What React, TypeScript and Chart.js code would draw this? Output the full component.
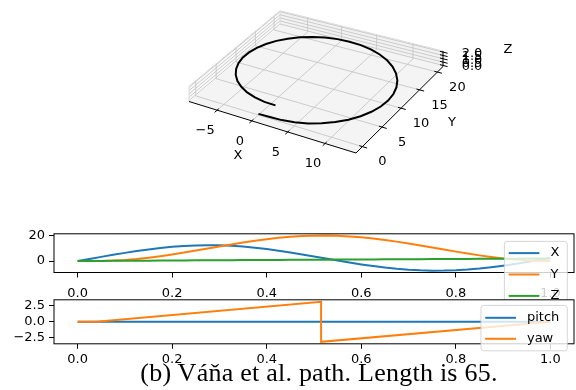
import React, { useEffect, useRef } from 'react';
import { Chart, registerables } from 'chart.js';

Chart.register(...registerables);

// ---------------- data ----------------
const T = [0, 0.025, 0.05, 0.075, 0.1, 0.125, 0.15, 0.175, 0.2, 0.225, 0.25, 0.275, 0.3, 0.325, 0.35, 0.375, 0.4, 0.425, 0.45, 0.475, 0.5, 0.525, 0.55, 0.575, 0.6, 0.625, 0.65, 0.675, 0.7, 0.725, 0.75, 0.775, 0.8, 0.825, 0.85, 0.875, 0.9, 0.925, 0.95, 0.975, 1.0];
const PATH_X = [0, 1.62, 3.25, 4.86, 6.4, 7.83, 9.12, 10.24, 11.14, 11.81, 12.24, 12.4, 12.3, 11.93, 11.31, 10.45, 9.38, 8.13, 6.72, 5.2, 3.61, 1.98, 0.36, -1.2, -2.67, -4.0, -5.17, -6.13, -6.86, -7.35, -7.58, -7.55, -7.25, -6.69, -5.9, -4.88, -3.67, -2.3, -0.8, 0.78, 2.4];
const PATH_Y = [0, 0, 0.04, 0.31, 0.83, 1.6, 2.6, 3.79, 5.14, 6.63, 8.2, 9.82, 11.45, 13.03, 14.54, 15.93, 17.16, 18.2, 19.02, 19.6, 19.93, 19.99, 19.79, 19.33, 18.62, 17.68, 16.54, 15.23, 13.77, 12.22, 10.6, 8.97, 7.37, 5.84, 4.42, 3.14, 2.06, 1.17, 0.53, 0.13, 0];
const PATH_Z = [0, 0.05, 0.1, 0.15, 0.2, 0.25, 0.3, 0.35, 0.4, 0.45, 0.5, 0.55, 0.6, 0.65, 0.7, 0.75, 0.8, 0.85, 0.9, 0.95, 1.0, 1.05, 1.1, 1.15, 1.2, 1.25, 1.3, 1.35, 1.4, 1.45, 1.5, 1.55, 1.6, 1.65, 1.7, 1.75, 1.8, 1.85, 1.9, 1.95, 2.0];

const ANGLE_T = [0, 0.04, 0.515, 0.515, 1.0];
const PITCH = [0, 0, 0, 0, 0];
const YAW = [0, 0, 3.14, -3.14, 0];

const POS_LABELS = ['X', 'Y', 'Z'];
const ANGLE_LABELS = ['pitch', 'yaw'];

const T_TICKS = [0, 0.2, 0.4, 0.6, 0.8, 1.0];
const POS_TICKS = [0, 20];
const ANGLE_TICKS = [-2.5, 0, 2.5];
const X3_TICKS = [-5, 0, 5, 10];
const Y3_TICKS = [0, 5, 10, 15, 20];
const Z3_TICKS = [0, 0.5, 1, 1.5, 2];

const CAPTION = '(b) Váňa et al. path. Length is 65.';

// ---------------- styles / layout ----------------
const C0 = '#1f77b4';
const C1 = '#ff7f0e';
const C2 = '#2ca02c';
const FONT = "'DejaVu Sans', sans-serif";
const FS = 13;

// 3D box limits and camera (floor corners on screen, perspective via homography)
const BOX = { xmin: -9.2, xmax: 14.0, ymin: -1.6, ymax: 21.6, zmin: -0.16, zmax: 2.16 };
const FLOOR_CORNERS: [number, number][] = [[189, 101.5], [356, 153], [443, 66.5], [280, 25]];
const Z_PX = 6.67;

function makeHomography(c: [number, number][]) {
  const [[x0, y0], [x1, y1], [x2, y2], [x3, y3]] = c;
  const dx1 = x1 - x2, dx2 = x3 - x2, dx3 = x0 - x1 + x2 - x3;
  const dy1 = y1 - y2, dy2 = y3 - y2, dy3 = y0 - y1 + y2 - y3;
  const den = dx1 * dy2 - dx2 * dy1;
  const g = (dx3 * dy2 - dx2 * dy3) / den;
  const h = (dx1 * dy3 - dx3 * dy1) / den;
  return {
    a: x1 - x0 + g * x1, b: x3 - x0 + h * x3, c: x0,
    d: y1 - y0 + g * y1, e: y3 - y0 + h * y3, f: y0, g, h,
  };
}
const HG = makeHomography(FLOOR_CORNERS);
const KZ = Z_PX * (1 + HG.g + HG.h);

function project(x: number, y: number, z: number) {
  const u = (x - BOX.xmin) / (BOX.xmax - BOX.xmin);
  const v = (y - BOX.ymin) / (BOX.ymax - BOX.ymin);
  const w = HG.g * u + HG.h * v + 1;
  return {
    x: (HG.a * u + HG.b * v + HG.c) / w,
    y: (HG.d * u + HG.e * v + HG.f) / w - ((z - BOX.zmin) * KZ) / w,
  };
}

const fmt = (v: number, digits: number) => {
  const s = Math.abs(v).toFixed(digits);
  return v < 0 ? '\u2212' + s : s;
};

const axes3dPlugin = {
  id: 'axes3d',
  beforeDatasetsDraw(chart: any) {
    const ctx = chart.ctx as CanvasRenderingContext2D;
    const xs = chart.scales.x, ys = chart.scales.y;
    const P = (x: number, y: number, z: number): [number, number] => {
      const p = project(x, y, z);
      return [xs.getPixelForValue(p.x), ys.getPixelForValue(p.y)];
    };
    const { xmin, xmax, ymin, ymax, zmin, zmax } = BOX;
    const poly = (pts: [number, number, number][], fill: string) => {
      ctx.beginPath();
      pts.forEach((p, i) => {
        const [px, py] = P(p[0], p[1], p[2]);
        if (i === 0) ctx.moveTo(px, py); else ctx.lineTo(px, py);
      });
      ctx.closePath();
      ctx.fillStyle = fill;
      ctx.fill();
    };
    const seg = (a: [number, number, number], b: [number, number, number]) => {
      const [ax, ay] = P(a[0], a[1], a[2]);
      const [bx, by] = P(b[0], b[1], b[2]);
      ctx.beginPath();
      ctx.moveTo(ax, ay);
      ctx.lineTo(bx, by);
      ctx.stroke();
    };
    ctx.save();
    // panes
    poly([[xmin, ymin, zmin], [xmax, ymin, zmin], [xmax, ymax, zmin], [xmin, ymax, zmin]], '#f4f4f4');
    poly([[xmin, ymin, zmin], [xmin, ymax, zmin], [xmin, ymax, zmax], [xmin, ymin, zmax]], '#f9f9f9');
    poly([[xmin, ymax, zmin], [xmax, ymax, zmin], [xmax, ymax, zmax], [xmin, ymax, zmax]], '#f2f2f2');
    // grid
    ctx.strokeStyle = '#c6c6c6';
    ctx.lineWidth = 0.9;
    X3_TICKS.forEach((x) => {
      seg([x, ymin, zmin], [x, ymax, zmin]);
      seg([x, ymax, zmin], [x, ymax, zmax]);
    });
    Y3_TICKS.forEach((y) => {
      seg([xmin, y, zmin], [xmax, y, zmin]);
      seg([xmin, y, zmin], [xmin, y, zmax]);
    });
    Z3_TICKS.forEach((z) => {
      seg([xmin, ymin, z], [xmin, ymax, z]);
      seg([xmin, ymax, z], [xmax, ymax, z]);
    });
    // pane outlines
    ctx.strokeStyle = '#d8d8d8';
    seg([xmin, ymin, zmax], [xmin, ymax, zmax]);
    seg([xmin, ymax, zmax], [xmax, ymax, zmax]);
    seg([xmin, ymin, zmin], [xmin, ymin, zmax]);
    seg([xmin, ymax, zmin], [xmin, ymax, zmax]);
    // axis lines
    ctx.strokeStyle = '#000';
    ctx.lineWidth = 1;
    seg([xmin, ymin, zmin], [xmax, ymin, zmin]);
    seg([xmax, ymin, zmin], [xmax, ymax, zmin]);
    seg([xmax, ymax, zmin], [xmax, ymax, zmax]);
    // ticks
    X3_TICKS.forEach((x) => seg([x, ymin + 0.4, zmin], [x, ymin - 0.6, zmin]));
    Y3_TICKS.forEach((y) => seg([xmax - 0.4, y, zmin], [xmax + 0.6, y, zmin]));
    Z3_TICKS.forEach((z) => seg([xmax - 0.4, ymax, z], [xmax + 0.6, ymax, z]));
    // tick labels
    ctx.fillStyle = '#000';
    ctx.font = `${FS}px ${FONT}`;
    ctx.textAlign = 'center';
    ctx.textBaseline = 'middle';
    X3_TICKS.forEach((x) => {
      const [px, py] = P(x, ymin, zmin);
      ctx.fillText(fmt(x, 0), px - 12, py + 20.5);
    });
    Y3_TICKS.forEach((y) => {
      const [px, py] = P(xmax, y, zmin);
      ctx.fillText(fmt(y, 0), px + 20, py + 15.5);
    });
    Z3_TICKS.forEach((z) => {
      const [px, py] = P(xmax, ymax, z);
      ctx.fillText(fmt(z, 1), px + 29, py + 1.5);
    });
    // axis titles
    {
      const [px, py] = P((xmin + xmax) / 2, ymin, zmin);
      ctx.fillText('X', px - 31, py + 29.5);
    }
    {
      const [px, py] = P(xmax, (ymin + ymax) / 2, zmin);
      ctx.fillText('Y', px + 51, py + 14.5);
    }
    {
      const [px, py] = P(xmax, ymax, (zmin + zmax) / 2);
      ctx.fillText('Z', px + 65, py - 9);
    }
    ctx.restore();
  },
};

function make3D(canvas: HTMLCanvasElement) {
  return new Chart(canvas, {
    type: 'scatter',
    data: {
      datasets: [
        {
          data: T.map((_, i) => project(PATH_X[i], PATH_Y[i], PATH_Z[i])),
          showLine: true,
          borderColor: '#000',
          backgroundColor: '#000',
          borderWidth: 2,
          pointRadius: 0,
          fill: false,
        } as any,
      ],
    },
    options: {
      animation: false,
      responsive: false,
      devicePixelRatio: 1,
      layout: { padding: 0 },
      plugins: { legend: { display: false }, tooltip: { enabled: false } },
      scales: {
        x: { type: 'linear', min: 0, max: canvas.width, display: false },
        y: { type: 'linear', min: 0, max: canvas.height, reverse: true, display: false },
      },
    } as any,
    plugins: [axes3dPlugin],
  });
}

interface Cfg2D {
  datasets: any[];
  yMin: number;
  yMax: number;
  yTicks: number[];
  yDigits: number;
  padTop: number;
  plotH: number;
  xPad: number;
  legendTop: number;
  legendRow0: number;
  legendRowStep: number;
  legendLabels: string[];
  legendColors: string[];
}

function make2D(canvas: HTMLCanvasElement, cfg: Cfg2D) {
  const xH = canvas.height - cfg.padTop - cfg.plotH;
  const framePlugin = {
    id: 'frame',
    beforeDraw(chart: any) {
      const { left, top, right, bottom } = chart.chartArea;
      const ctx = chart.ctx;
      ctx.save();
      ctx.fillStyle = '#fff';
      ctx.fillRect(left, top, right - left, bottom - top);
      ctx.restore();
    },
    afterDatasetsDraw(chart: any) {
      const { left, top, right, bottom } = chart.chartArea;
      const ctx = chart.ctx;
      ctx.save();
      ctx.strokeStyle = '#000';
      ctx.lineWidth = 1;
      ctx.strokeRect(left, top, right - left, bottom - top);
      ctx.restore();
    },
  };
  const legendPlugin = {
    id: 'mplLegend',
    afterDraw(chart: any) {
      const ctx = chart.ctx as CanvasRenderingContext2D;
      const { top, right } = chart.chartArea;
      ctx.save();
      ctx.font = `${FS}px ${FONT}`;
      const tw = Math.max(...cfg.legendLabels.map((l) => ctx.measureText(l).width));
      const w = 4.3 + 30.7 + 11 + tw + 8;
      const n = cfg.legendLabels.length;
      const h = cfg.legendRow0 + (n - 1) * cfg.legendRowStep + 12;
      const bx = right - 6.7 - w;
      const by = top + cfg.legendTop;
      ctx.beginPath();
      (ctx as any).roundRect(bx, by, w, h, 2.7);
      ctx.fillStyle = 'rgba(255,255,255,0.8)';
      ctx.fill();
      ctx.strokeStyle = 'rgba(204,204,204,0.8)';
      ctx.lineWidth = 1;
      ctx.stroke();
      cfg.legendLabels.forEach((lab, i) => {
        const y = by + cfg.legendRow0 + i * cfg.legendRowStep;
        ctx.strokeStyle = cfg.legendColors[i];
        ctx.lineWidth = 2;
        ctx.beginPath();
        ctx.moveTo(bx + 4.3, y);
        ctx.lineTo(bx + 35, y);
        ctx.stroke();
        ctx.fillStyle = '#000';
        ctx.textAlign = 'left';
        ctx.textBaseline = 'middle';
        ctx.fillText(lab, bx + 46, y);
      });
      ctx.restore();
    },
  };
  return new Chart(canvas, {
    type: 'line',
    data: { datasets: cfg.datasets },
    options: {
      animation: false,
      responsive: false,
      devicePixelRatio: 1,
      layout: { padding: { top: cfg.padTop, right: 2, bottom: 0, left: 0 } },
      plugins: { legend: { display: false }, tooltip: { enabled: false } },
      elements: { point: { radius: 0 }, line: { tension: 0 } },
      scales: {
        x: {
          type: 'linear',
          min: -0.05,
          max: 1.05,
          afterBuildTicks: (s: any) => {
            s.ticks = T_TICKS.map((v) => ({ value: v }));
          },
          afterFit: (s: any) => {
            s.height = xH;
          },
          ticks: {
            autoSkip: false,
            maxRotation: 0,
            padding: cfg.xPad,
            color: '#000',
            font: { family: FONT, size: FS },
            callback: (v: any) => fmt(Number(v), 1),
          },
          grid: { drawOnChartArea: false, drawTicks: true, tickLength: 5, color: '#000', lineWidth: 1 },
          border: { display: false },
        },
        y: {
          type: 'linear',
          min: cfg.yMin,
          max: cfg.yMax,
          afterBuildTicks: (s: any) => {
            s.ticks = cfg.yTicks.map((v) => ({ value: v }));
          },
          afterFit: (s: any) => {
            s.width = 54;
          },
          ticks: {
            autoSkip: false,
            padding: 4,
            color: '#000',
            font: { family: FONT, size: FS },
            callback: (v: any) => fmt(Number(v), cfg.yDigits),
          },
          grid: { drawOnChartArea: false, drawTicks: true, tickLength: 5, color: '#000', lineWidth: 1 },
          border: { display: false },
        },
      },
    } as any,
    plugins: [framePlugin, legendPlugin],
  });
}

const line = (label: string, xs: number[], ys: number[], color: string, order: number) => ({
  label,
  data: xs.map((x, i) => ({ x, y: ys[i] })),
  borderColor: color,
  backgroundColor: color,
  borderWidth: 2,
  pointRadius: 0,
  fill: false,
  order,
});

export default function App() {
  const r3 = useRef<HTMLCanvasElement>(null);
  const rPos = useRef<HTMLCanvasElement>(null);
  const rAng = useRef<HTMLCanvasElement>(null);

  useEffect(() => {
    Chart.defaults.font.family = FONT;
    Chart.defaults.font.size = FS;
    Chart.defaults.color = '#000';
    const charts = [
      make3D(r3.current!),
      make2D(rPos.current!, {
        datasets: [
          line(POS_LABELS[0], T, PATH_X, C0, 3),
          line(POS_LABELS[1], T, PATH_Y, C1, 2),
          line(POS_LABELS[2], T, PATH_Z, C2, 1),
        ],
        yMin: -9.03,
        yMax: 21.38,
        yTicks: POS_TICKS,
        yDigits: 0,
        padTop: 8.7,
        plotH: 41.8,
        xPad: 8.5,
        legendTop: 7.6,
        legendRow0: 11.7,
        legendRowStep: 21.4,
        legendLabels: POS_LABELS,
        legendColors: [C0, C1, C2],
      }),
      make2D(rAng.current!, {
        datasets: [line(ANGLE_LABELS[0], ANGLE_T, PITCH, C0, 2), line(ANGLE_LABELS[1], ANGLE_T, YAW, C1, 1)],
        yMin: -3.455,
        yMax: 3.455,
        yTicks: ANGLE_TICKS,
        yDigits: 1,
        padTop: 9.7,
        plotH: 46.1,
        xPad: 3.5,
        legendTop: 5.6,
        legendRow0: 12.4,
        legendRowStep: 21,
        legendLabels: ANGLE_LABELS,
        legendColors: [C0, C1],
      }),
    ];
    return () => charts.forEach((c) => c.destroy());
  }, []);

  const cv = (top: number, h: number): React.CSSProperties => ({
    position: 'absolute',
    left: 0,
    top,
    width: 576,
    height: h,
  });

  return (
    <div style={{ position: 'fixed', left: 0, top: 0, width: 576, height: 390, background: '#fff', overflow: 'hidden' }}>
      <canvas ref={r3} width={576} height={180} style={cv(0, 180)} />
      <canvas ref={rPos} width={576} height={84} style={cv(222, 84)} />
      <canvas ref={rAng} width={576} height={92} style={cv(288, 92)} />
      <div
        style={{
          position: 'absolute',
          left: 319,
          top: 360,
          transform: 'translateX(-50%)',
          whiteSpace: 'nowrap',
          fontFamily: "'Liberation Serif', 'Times New Roman', serif",
          fontSize: 26,
          letterSpacing: '0.24px',
          lineHeight: '26px',
          color: '#000',
        }}
      >
        {CAPTION}
      </div>
    </div>
  );
}
